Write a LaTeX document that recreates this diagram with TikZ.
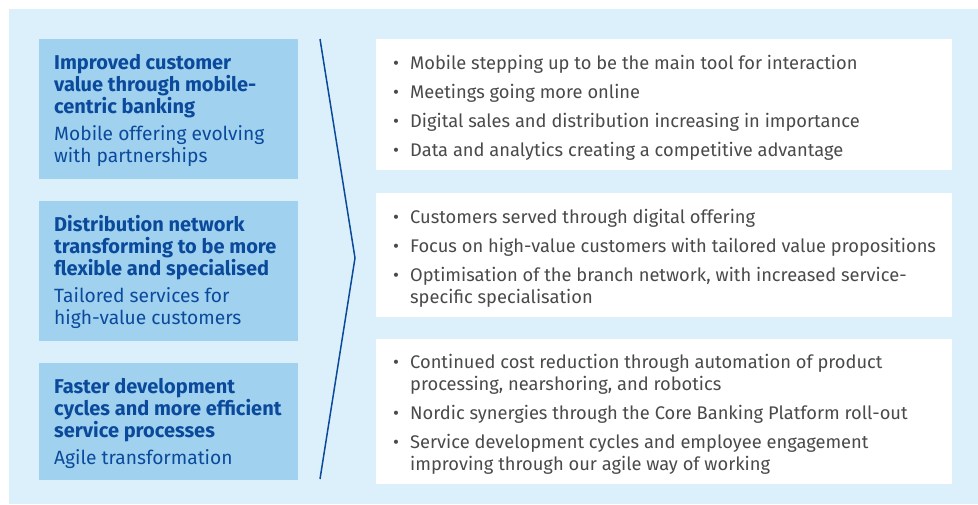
\documentclass[tikz,border=0pt]{standalone}
\usepackage{fontspec}
\setmainfont{Fira Sans}
\definecolor{bgblue}{HTML}{DCF0FB}
\definecolor{boxblue}{HTML}{A0D2F0}
\definecolor{navy}{HTML}{0B4A9B}
\definecolor{txtgray}{HTML}{4A4A4A}
\newcommand\bul{\makebox[17pt][l]{\textbullet}}
\newcommand\ind{\hspace*{17pt}}
\newcommand\hd[1]{{\fontsize{20}{22}\selectfont\textbf{#1}}}
\begin{document}
\begin{tikzpicture}[x=1pt,y=-1pt,
 lbox/.style={fill=boxblue,minimum width=259pt,anchor=north west,inner sep=0pt},
 rbox/.style={fill=white,minimum width=576pt,anchor=north west,inner sep=0pt},
 ltext/.style={anchor=west,align=left,inner sep=0pt,text=navy,
  font=\fontsize{19.2}{22}\selectfont},
 rtext/.style={anchor=west,align=left,inner sep=0pt,text=txtgray,
  font=\fontsize{18.3}{22}\selectfont}]
 \useasboundingbox (0,0) rectangle (978,504);
 \fill[bgblue] (9,9) rectangle (978,504);
 \node[lbox,minimum height=140pt] (L1) at (39,39) {}; % <<< left column
 \node[lbox,minimum height=140pt] (L2) at (39,201) {};
 \node[lbox,minimum height=117pt] (L3) at (39,363) {};
 \node[rbox,minimum height=131pt] (R1) at (376,39) {}; % <<< right column
 \node[rbox,minimum height=124pt] (R2) at (376,193) {};
 \node[rbox,minimum height=145pt] (R3) at (376,339) {};
 \node[ltext] (T1) at ([xshift=15pt,yshift=-1pt]L1.west)
  {\hd{Improved customer}\\\hd{value through mobile-}\\
   \hd{centric banking}\\[5pt]Mobile offering evolving\\with partnerships};
 \node[ltext] (T2) at ([xshift=15pt,yshift=-1pt]L2.west)
  {\hd{Distribution network}\\\hd{transforming to be more}\\
   \hd{flexible and specialised}\\[5pt]Tailored services for\\high-value customers};
 \node[ltext] (T3) at ([xshift=15pt,yshift=-2pt]L3.west)
  {\hd{Faster development}\\\hd{cycles and more efficient}\\
   \hd{service processes}\\[5pt]Agile transformation};
 \node[rtext] (S1) at ([xshift=17pt,yshift=-3pt]R1.west)
  {\bul Mobile stepping up to be the main tool for interaction\\[7pt]
   \bul Meetings going more online\\[7pt]
   \bul Digital sales and distribution increasing in importance\\[7pt]
   \bul Data and analytics creating a competitive advantage};
 \node[rtext] (S2) at ([xshift=17pt,yshift=-3pt]R2.west)
  {\bul Customers served through digital offering\\[7pt]
   \bul Focus on high-value customers with tailored value propositions\\[7pt]
   \bul Optimisation of the branch network, with increased service-\\
   \ind specific specialisation};
 \node[rtext] (S3) at ([xshift=17pt,yshift=-3pt]R3.west)
  {\bul Continued cost reduction through automation of product\\
   \ind processing, nearshoring, and robotics\\[7pt]
   \bul Nordic synergies through the Core Banking Platform roll-out\\[7pt]
   \bul Service development cycles and employee engagement\\
   \ind improving through our agile way of working};
 \coordinate (A) at (320,39);
 \coordinate (B) at (355,258);
 \coordinate (C) at (320,479);
 \draw[navy,line width=1.5pt] (A)--(B)--(C);
\end{tikzpicture}
\end{document}
